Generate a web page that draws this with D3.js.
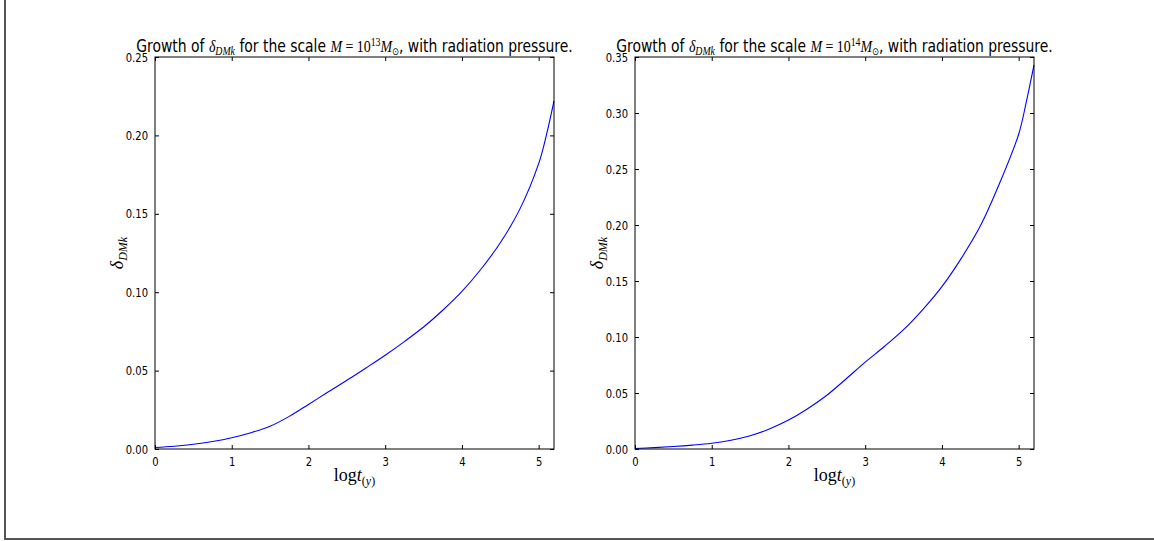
<!DOCTYPE html>
<html>
<head>
<meta charset="utf-8">
<script src="https://cdn.jsdelivr.net/npm/d3@7"></script>
<style>
  body { margin: 0; background: #fff; }
  svg { display: block; }
</style>
</head>
<body>
<script>
// log t values
const xsLeft = [0, 0.25, 0.5, 0.75, 1, 1.25, 1.5, 1.75, 2, 2.25, 2.5, 2.75, 3, 3.25, 3.5, 3.75, 4, 4.25, 4.5, 4.75, 5, 5.1, 5.2];
const deltaLeft = [0.001, 0.0018, 0.003, 0.0048, 0.0072, 0.0104, 0.0145, 0.0208, 0.0284, 0.0362, 0.0438, 0.0517, 0.0598, 0.0685, 0.0778, 0.0885, 0.1005, 0.1148, 0.1315, 0.1525, 0.182, 0.2, 0.222];

const xsRight = [0, 0.25, 0.5, 0.75, 1, 1.25, 1.5, 1.75, 2, 2.25, 2.5, 2.75, 3, 3.25, 3.5, 3.75, 4, 4.25, 4.5, 4.75, 5, 5.1, 5.2];
const deltaRight = [0.0005, 0.0012, 0.0022, 0.0035, 0.0052, 0.0078, 0.0118, 0.0178, 0.0258, 0.036, 0.048, 0.0625, 0.0775, 0.0915, 0.1065, 0.1245, 0.145, 0.17, 0.199, 0.237, 0.281, 0.31, 0.343];

const xTicks = [0, 1, 2, 3, 4, 5];
const yTicksLeft = [0, 0.05, 0.10, 0.15, 0.20, 0.25];
const yTicksRight = [0, 0.05, 0.10, 0.15, 0.20, 0.25, 0.30, 0.35];

const panels = [
  { left: 155, xs: xsLeft, ys: deltaLeft, yMax: 0.25, yTicks: yTicksLeft, power: "13" },
  { left: 635, xs: xsRight, ys: deltaRight, yMax: 0.35, yTicks: yTicksRight, power: "14" }
];

const width = 1154, height = 541;
const plotW = 399, plotTop = 57, plotBottom = 449;
const sans = "DejaVu Sans";

const svg = d3.select("body").append("svg")
  .attr("width", width)
  .attr("height", height);

// outer frame (left and bottom edges only)
svg.append("path")
  .attr("d", `M5,0V539H${width}`)
  .attr("fill", "none")
  .attr("stroke", "#555")
  .attr("stroke-width", 2);

// squeeze DejaVu a bit, the original font is narrower
function condense(sel, factor) {
  sel.each(function () {
    const w = this.getComputedTextLength();
    d3.select(this).attr("textLength", w * factor).attr("lengthAdjust", "spacingAndGlyphs");
  });
}

panels.forEach(p => {
  const x = d3.scaleLinear().domain([0, 5.2]).range([p.left, p.left + plotW]);
  const y = d3.scaleLinear().domain([0, p.yMax]).range([plotBottom, plotTop]);

  const g = svg.append("g");

  // line
  const line = d3.line()
    .x((d, i) => x(p.xs[i]))
    .y(d => y(d))
    .curve(d3.curveCatmullRom.alpha(0.5));

  g.append("path")
    .datum(p.ys)
    .attr("d", line)
    .attr("fill", "none")
    .attr("stroke", "#0000ff")
    .attr("stroke-width", 1.1);

  // axes with inward ticks
  const tickFont = a => a.selectAll("text")
    .attr("font-family", sans)
    .attr("font-size", 12.5)
    .attr("fill", "#000")
    .call(condense, 0.8);

  g.append("g")
    .attr("transform", `translate(0,${plotBottom})`)
    .call(d3.axisBottom(x).tickValues(xTicks).tickSize(-4).tickPadding(8).tickFormat(d3.format("d")))
    .call(tickFont)
    .call(a => a.select(".domain").remove());

  g.append("g")
    .attr("transform", `translate(0,${plotTop})`)
    .call(d3.axisTop(x).tickValues(xTicks).tickSize(-4).tickFormat(""))
    .call(a => a.select(".domain").remove());

  g.append("g")
    .attr("transform", `translate(${p.left},0)`)
    .call(d3.axisLeft(y).tickValues(p.yTicks).tickSize(-4).tickPadding(7).tickFormat(d3.format(".2f")))
    .call(tickFont)
    .call(a => a.select(".domain").remove());

  g.append("g")
    .attr("transform", `translate(${p.left + plotW},0)`)
    .call(d3.axisRight(y).tickValues(p.yTicks).tickSize(-4).tickFormat(""))
    .call(a => a.select(".domain").remove());

  g.append("rect")
    .attr("x", p.left)
    .attr("y", plotTop)
    .attr("width", plotW)
    .attr("height", plotBottom - plotTop)
    .attr("fill", "none")
    .attr("stroke", "#000")
    .attr("stroke-width", 1);

  // title, drawn at natural width then squeezed horizontally
  const title = g.append("text")
    .attr("text-anchor", "middle")
    .attr("font-family", sans)
    .attr("font-size", 17)
    .attr("fill", "#000");
  title.append("tspan").text("Growth of ");
  title.append("tspan").attr("font-family", "Liberation Serif").attr("font-style", "italic").text("δ");
  title.append("tspan").attr("font-family", "Liberation Serif").attr("font-style", "italic")
    .attr("font-size", 12).attr("dy", 3).text("DMk");
  title.append("tspan").attr("dy", -3).text(" for the scale ");
  title.append("tspan").attr("font-family", "Liberation Serif").attr("font-style", "italic").text("M");
  title.append("tspan").attr("font-family", "Liberation Serif").text(" = 10");
  title.append("tspan").attr("font-family", "Liberation Serif").attr("font-size", 12).attr("dy", -6).text(p.power);
  title.append("tspan").attr("font-family", "Liberation Serif").attr("font-style", "italic").attr("dy", 6).text("M");
  title.append("tspan").attr("font-family", "DejaVu Sans").attr("font-size", 10).attr("dy", 3).text("⊙");
  title.append("tspan").attr("dy", -3).text(", with radiation pressure.");
  const natural = title.node().getComputedTextLength();
  title.attr("transform", `translate(${p.left + plotW / 2},52) scale(${437 / natural},1)`);

  // x label
  const xl = g.append("text")
    .attr("x", p.left + plotW / 2)
    .attr("y", 481)
    .attr("text-anchor", "middle")
    .attr("font-family", "Liberation Serif")
    .attr("font-size", 18)
    .attr("fill", "#000");
  xl.append("tspan").text("log");
  xl.append("tspan").attr("font-style", "italic").text("t");
  xl.append("tspan").attr("font-size", 12).attr("dy", 4).text("(");
  xl.append("tspan").attr("font-size", 12).attr("font-style", "italic").text("y");
  xl.append("tspan").attr("font-size", 12).text(")");

  // y label
  const yl = g.append("text")
    .attr("transform", `translate(${p.left - 32},${(plotTop + plotBottom) / 2}) rotate(-90)`)
    .attr("text-anchor", "middle")
    .attr("font-family", "Liberation Serif")
    .attr("font-style", "italic")
    .attr("font-size", 18)
    .attr("fill", "#000");
  yl.append("tspan").text("δ");
  yl.append("tspan").attr("font-size", 12).attr("dy", 4).text("DMk");
});
</script>
</body>
</html>
